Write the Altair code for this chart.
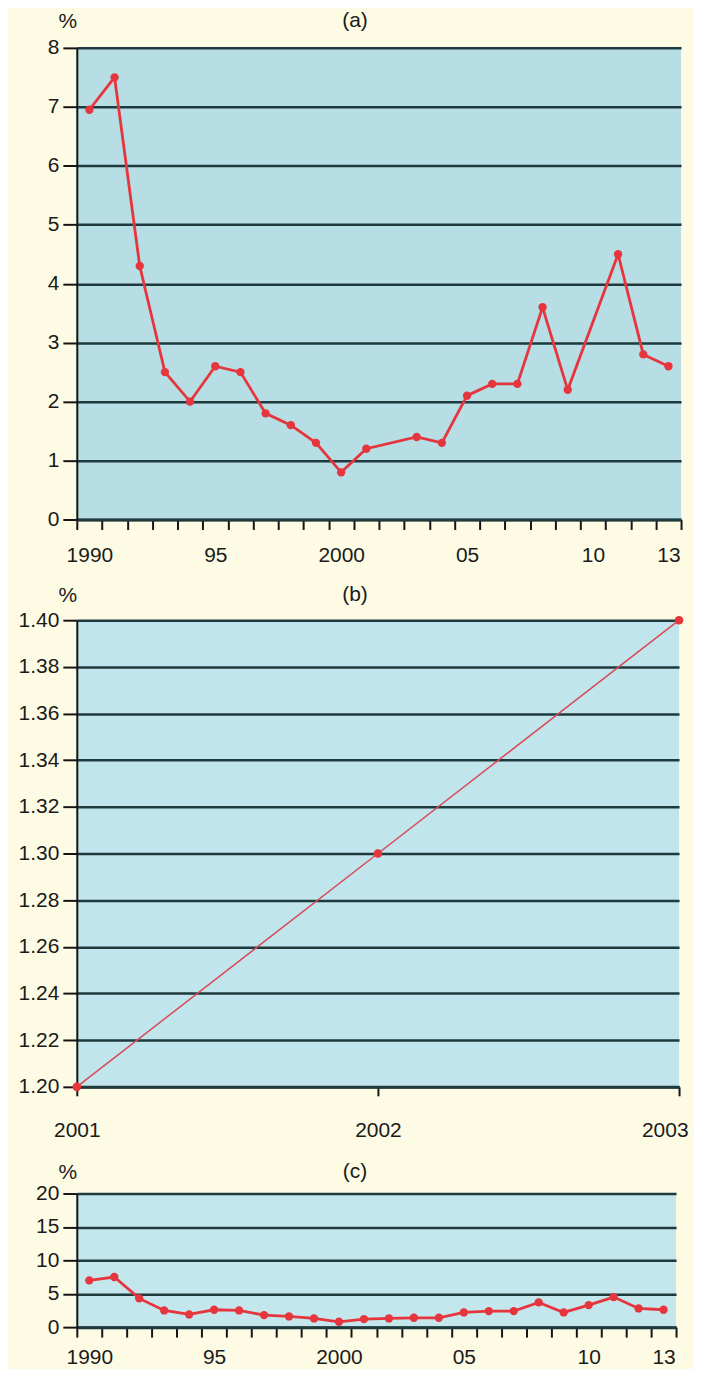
import altair as alt
import pandas as pd

# ---------------- data ----------------
years_a = [1990, 1991, 1992, 1993, 1994, 1995, 1996, 1997, 1998, 1999, 2000,
           2001, 2003, 2004, 2005, 2006, 2007, 2008, 2009, 2011, 2012, 2013]
rate_a = [6.95, 7.5, 4.3, 2.5, 2.0, 2.6, 2.5, 1.8, 1.6, 1.3, 0.8,
          1.2, 1.4, 1.3, 2.1, 2.3, 2.3, 3.6, 2.2, 4.5, 2.8, 2.6]

years_b = [2001, 2002, 2003]
rate_b = [1.20, 1.30, 1.40]

years_c = [1990, 1991, 1992, 1993, 1994, 1995, 1996, 1997, 1998, 1999, 2000, 2001,
           2002, 2003, 2004, 2005, 2006, 2007, 2008, 2009, 2010, 2011, 2012, 2013]
rate_c = [7.0, 7.5, 4.3, 2.5, 1.9, 2.6, 2.5, 1.8, 1.6, 1.3, 0.8, 1.2,
          1.3, 1.4, 1.4, 2.2, 2.4, 2.4, 3.7, 2.2, 3.3, 4.5, 2.8, 2.6]

yticks_a = [0, 1, 2, 3, 4, 5, 6, 7, 8]
yticks_b = [1.20, 1.22, 1.24, 1.26, 1.28, 1.30, 1.32, 1.34, 1.36, 1.38, 1.40]
yticks_c = [0, 5, 10, 15, 20]
year_ticks = list(range(1990, 2015))
year_labels = {1990: "1990", 1995: "95", 2000: "2000", 2005: "05", 2010: "10", 2013: "13"}
panel_titles = ["(a)", "(b)", "(c)"]
unit_label = "%"

# ---------------- style ----------------
FONT = "Liberation Sans"
FS = 21
BG = "#FDFBE4"
GRID = "#1E3A3C"
AXIS = "#151515"
RED = "#E6353D"
TXT = "#1A1A1A"

label_expr = " : ".join(f"datum.value == {k} ? '{v}'" for k, v in year_labels.items()) + " : ''"


def y_axis(values, fmt):
    return alt.Axis(values=values, format=fmt, grid=True, gridColor=GRID, gridWidth=2.5,
                    domain=True, domainColor=AXIS, domainWidth=2,
                    ticks=True, tickColor=AXIS, tickWidth=2, tickSize=14,
                    tickCount=len(values), labelOverlap=False, labelFlush=False,
                    labelFont=FONT, labelFontSize=FS, labelColor=TXT, labelPadding=4,
                    title=None, minExtent=69, maxExtent=69)


def year_axis(dx, pad):
    return alt.Axis(values=year_ticks, labelExpr=label_expr, labelOffset=dx,
                    tickCount=len(year_ticks),
                    labelOverlap=False, labelFlush=False, labelAlign="center",
                    grid=False, domain=True, domainColor=GRID, domainWidth=3,
                    ticks=True, tickColor=AXIS, tickWidth=2, tickSize=10,
                    labelFont=FONT, labelFontSize=FS, labelColor=TXT, labelPadding=pad,
                    title=None)


def header_layers(title, ty):
    t = alt.Chart(pd.DataFrame({"t": [title]})).mark_text(
        font=FONT, fontSize=FS, color=TXT, align="center", baseline="middle"
    ).encode(text="t:N", x=alt.value(279), y=alt.value(ty))
    u = alt.Chart(pd.DataFrame({"t": [unit_label]})).mark_text(
        font=FONT, fontSize=FS, color=TXT, align="center", baseline="middle"
    ).encode(text="t:N", x=alt.value(-9), y=alt.value(ty + 1))
    return [t, u]


def year_panel(years, rates, yvals, ydom, title, fill, w, h, ty, pad):
    df = pd.DataFrame({"year": years, "rate": rates})
    line = alt.Chart(df).transform_calculate(pos="datum.year + 0.5").mark_line(
        color=RED, strokeWidth=2.8,
        point=alt.OverlayMarkDef(filled=True, color=RED, size=70, opacity=1)
    ).encode(
        x=alt.X("pos:Q", scale=alt.Scale(domain=[1990, 2014], nice=False, zero=False),
                axis=year_axis(w / 24 / 2, pad)),
        y=alt.Y("rate:Q", scale=alt.Scale(domain=ydom, nice=False, zero=False),
                axis=y_axis(yvals, "d")),
    )
    return alt.layer(line, *header_layers(title, ty)).properties(
        width=w, height=h, view=alt.ViewBackground(fill=fill, stroke=None))


panel_a = year_panel(years_a, rate_a, yticks_a, [0, 8], panel_titles[0], "#B6DEE4",
                     606, 473, -27, 15)

df_b = pd.DataFrame({"year": years_b, "rate": rate_b})
last_b = f"datum.value === {years_b[-1]}"
line_b = alt.Chart(df_b).mark_line(
    color="#DA4A55", strokeWidth=1.5,
    point=alt.OverlayMarkDef(filled=True, color=RED, size=75, opacity=1)
).encode(
    x=alt.X("year:Q", scale=alt.Scale(domain=[2001, 2003], nice=False, zero=False),
            axis=alt.Axis(values=years_b, format="d", tickCount=3, tickMinStep=0.5,
                          grid=False, domain=True,
                          domainColor=GRID, domainWidth=3, ticks=True, tickColor=AXIS,
                          tickWidth=2, tickSize=9, labelFont=FONT, labelFontSize=FS,
                          labelColor=TXT, labelPadding=24, labelFlush=False,
                          labelAlign={"condition": {"test": last_b, "value": "right"},
                                      "value": "center"},
                          labelOffset={"condition": {"test": last_b, "value": 9},
                                       "value": 0},
                          labelOverlap=False, title=None)),
    y=alt.Y("rate:Q", scale=alt.Scale(domain=[1.2, 1.4], nice=False, zero=False),
            axis=y_axis(yticks_b, ".2f")),
)
panel_b = alt.layer(line_b, *header_layers(panel_titles[1], -25)).properties(
    width=604, height=468, view=alt.ViewBackground(fill="#C1E5ED", stroke=None))

panel_c = year_panel(years_c, rate_c, yticks_c, [0, 20], panel_titles[2], "#C4E7EE",
                     601, 134, -22, 9)

chart = alt.vconcat(
    alt.vconcat(panel_a, panel_b, spacing=19),
    panel_c, spacing=20
).properties(
    padding={"top": 0, "left": 0, "right": 0, "bottom": 0}
).configure(background=BG).configure_view(stroke=None)

chart.save("out.html", embed_options={"renderer": "svg", "actions": False})
